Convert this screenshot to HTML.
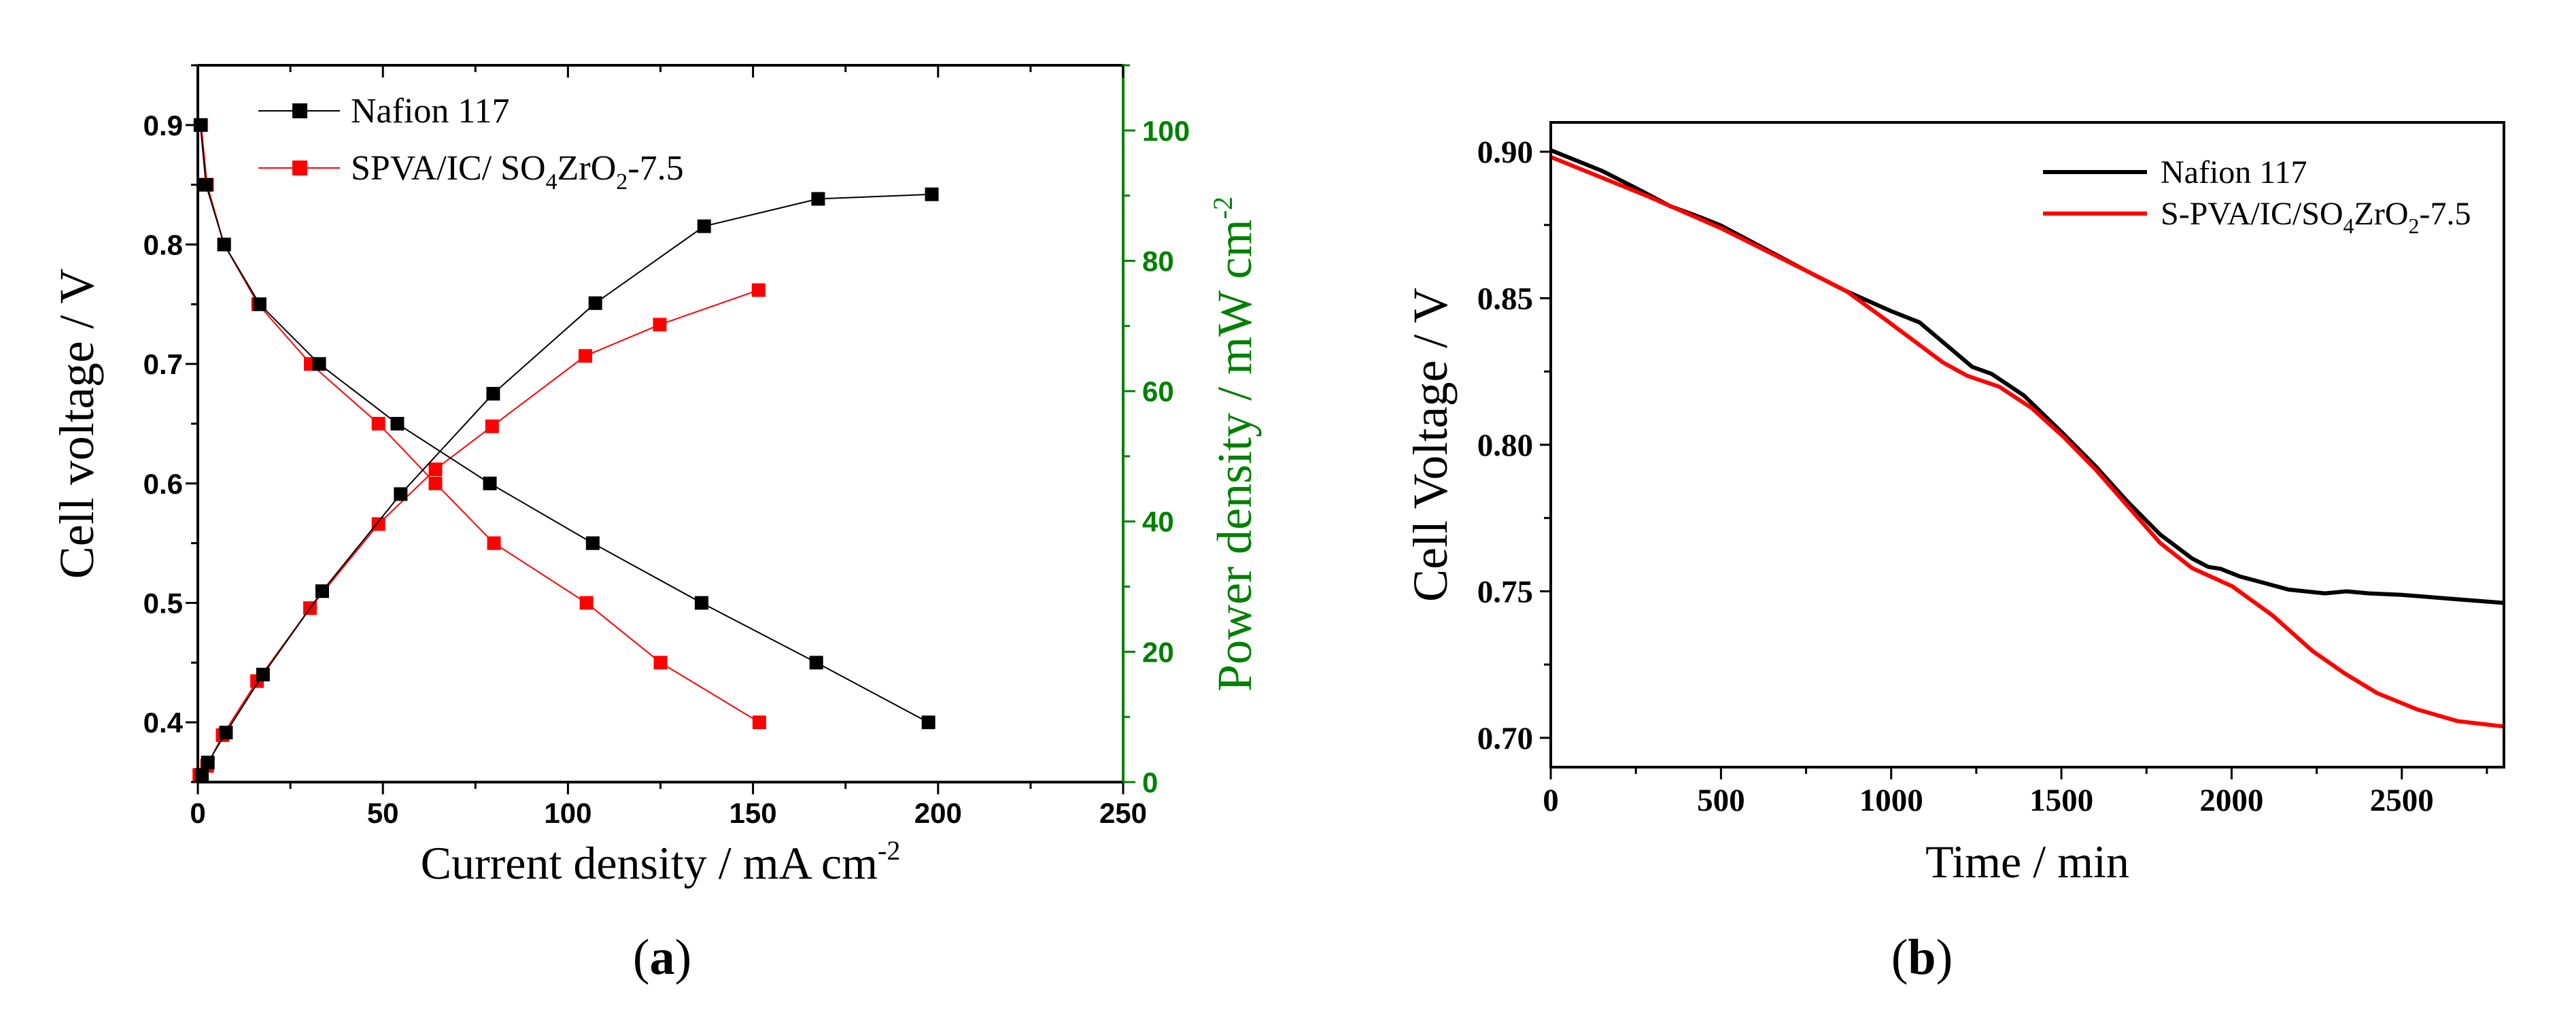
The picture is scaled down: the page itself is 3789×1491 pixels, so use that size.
<!DOCTYPE html>
<html><head><meta charset="utf-8"><style>
html,body{margin:0;padding:0;background:#fff;}
svg{display:block;}
.sf{font-family:"Liberation Serif","DejaVu Serif","Times New Roman",serif;}
.ss{font-family:"Liberation Sans","DejaVu Sans",Arial,sans-serif;}
</style></head><body>
<svg id="fig" width="3789" height="1491" viewBox="0 0 3789 1491" xmlns="http://www.w3.org/2000/svg">
<g id="ga"></g>
<g id="gb"></g>
<text class="sf" x="974" y="1432" font-size="74" text-anchor="middle">(<tspan font-weight="bold">a</tspan>)</text>
<text class="sf" x="2827" y="1432" font-size="74" text-anchor="middle">(<tspan font-weight="bold">b</tspan>)</text>
</svg>
<script>
// Panel (a) data
const nafVX = [0.7, 2.2, 7.1, 16.7, 32.8, 53.9, 78.9, 106.7, 136.1, 167.1, 197.4];
const nafV  = [0.9, 0.85, 0.8, 0.75, 0.7, 0.65, 0.6, 0.55, 0.5, 0.45, 0.4];
const spvVX = [0.9, 2.5, 7.1, 16.3, 30.5, 48.8, 64.2, 80, 105, 125, 151.7];
const spvV  = [0.9, 0.85, 0.8, 0.75, 0.7, 0.65, 0.6, 0.55, 0.5, 0.45, 0.4];
const nafPX = [1.1, 2.7, 7.6, 17.6, 33.6, 54.8, 79.8, 107.4, 136.8, 167.6, 198.3];
const nafP  = [1.1, 3.0, 7.6, 16.5, 29.3, 44.2, 59.6, 73.5, 85.3, 89.5, 90.2];
const spvPX = [0.4, 2.5, 6.7, 16, 30.3, 48.8, 64.2, 79.5, 104.7, 124.8, 151.5];
const spvP  = [1.1, 2.5, 7.2, 15.5, 26.7, 39.6, 48, 54.6, 65.4, 70.2, 75.5];
const aXTicks = [0, 50, 100, 150, 200, 250];
const aYTicks = [0.4, 0.5, 0.6, 0.7, 0.8, 0.9];
const aY2Ticks = [0, 20, 40, 60, 80, 100];
// Panel (b) data
const nafT = [0,150,252,351,436,500,752,870,1000,1083,1238,1295,1389,1507,1601,1696,1790,1884,1932,1967,2026,2097,2167,2274,2337,2403,2498,2639,2804];
const nafB = [0.9005,0.8935,0.8875,0.8814,0.8778,0.8748,0.8593,0.8523,0.8456,0.8418,0.8266,0.8242,0.8169,0.8036,0.7926,0.7804,0.7694,0.7612,0.7583,0.7577,0.755,0.7528,0.7506,0.7493,0.750,0.7493,0.7488,0.7475,0.746];
const spvT = [0,281,500,752,870,988,1153,1224,1318,1413,1507,1601,1696,1790,1884,2002,2120,2238,2333,2427,2545,2663,2804];
const spvB = [0.8982,0.8850,0.8739,0.8593,0.8523,0.8423,0.828,0.8235,0.8198,0.8125,0.8026,0.7915,0.7789,0.7665,0.7579,0.7517,0.7418,0.7296,0.7219,0.7153,0.7097,0.7057,0.7038];
const bXTicks = [0, 500, 1000, 1500, 2000, 2500];
const bYTicks = [0.70, 0.75, 0.80, 0.85, 0.90];

const NS = "http://www.w3.org/2000/svg";
function mk(parent, tag, attrs, txt){
  const e = document.createElementNS(NS, tag);
  for (const k in attrs) e.setAttribute(k, attrs[k]);
  if (txt !== undefined) e.textContent = txt;
  parent.appendChild(e); return e;
}
const ga = document.getElementById('ga');
const gb = document.getElementById('gb');

// ---- Panel A ----
const aL=291, aR=1652, aT=96, aB=1150;
const ax = v => aL + v/250*(aR-aL);
const ay = v => aB - (v-0.35)/0.6*(aB-aT);
const ay2 = v => aB - v/110*(aB-aT);

function seriesA(xs, ys, yf, color, name){
  const pts = xs.map((x,i)=>ax(x).toFixed(1)+','+yf(ys[i]).toFixed(1)).join(' ');
  const pl = mk(ga,'polyline',{points:pts,fill:'none',stroke:color,'stroke-width':2});
  
  
  xs.forEach((x,i)=>{
    const r = mk(ga,'rect',{x:ax(x)-10,y:yf(ys[i])-10,width:20,height:20,fill:color});
    
    
  });
}
seriesA(spvVX, spvV, ay, '#ff0000', 'spva-voltage');
seriesA(spvPX, spvP, ay2, '#ff0000', 'spva-power');
seriesA(nafVX, nafV, ay, '#000000', 'nafion-voltage');
seriesA(nafPX, nafP, ay2, '#000000', 'nafion-power');

let e;
e = mk(ga,'path',{d:`M${aL},${aT} H${aR-2} M${aL},${aT} V${aB} H${aR}`,fill:'none',stroke:'#000','stroke-width':4});
 
e = mk(ga,'line',{x1:aR,y1:aT-2,x2:aR,y2:aB,stroke:'#008000','stroke-width':4});
 
for (let v=0; v<=250; v+=25){
  const big = v%50===0;
  mk(ga,'line',{x1:ax(v),y1:aB,x2:ax(v),y2:aB+(big?18:10),stroke:'#000','stroke-width':3});
  mk(ga,'line',{x1:ax(v),y1:aT,x2:ax(v),y2:aT+(big?18:10),stroke:'#000','stroke-width':3});
}
aXTicks.forEach(v=>{
  const t = mk(ga,'text',{x:ax(v),y:aB+60,'text-anchor':'middle',class:'ss','font-weight':'bold','font-size':42}, String(v));
   
});
for (let v=0.35; v<=0.951; v+=0.05){
  const big = Math.abs(Math.round(v*10)-v*10)<1e-6;
  mk(ga,'line',{x1:aL,y1:ay(v),x2:aL-(big?18:10),y2:ay(v),stroke:'#000','stroke-width':3});
}
aYTicks.forEach(v=>{
  const t = mk(ga,'text',{x:aL-22,y:ay(v)+15,'text-anchor':'end',class:'ss','font-weight':'bold','font-size':42}, v.toFixed(1));
   
});
for (let v=0; v<=110; v+=10){
  const big = v%20===0;
  mk(ga,'line',{x1:aR,y1:ay2(v),x2:aR+(big?18:10),y2:ay2(v),stroke:'#008000','stroke-width':3});
}
aY2Ticks.forEach(v=>{
  const t = mk(ga,'text',{x:aR+28,y:ay2(v)+15,'text-anchor':'start',class:'ss','font-weight':'bold','font-size':42,fill:'#008000'}, String(v));
   
});
e = mk(ga,'text',{x:(aL+aR)/2,y:1292,'text-anchor':'middle','font-size':68,class:'sf'});
e.innerHTML = 'Current density / mA cm<tspan dy="-28" font-size="40">-2</tspan>';
 
e = mk(ga,'text',{x:0,y:0,'text-anchor':'middle','font-size':72,class:'sf',transform:`translate(137,${(aT+aB)/2}) rotate(-90)`}, 'Cell voltage / V');
 
e = mk(ga,'text',{x:0,y:0,'text-anchor':'middle','font-size':72,class:'sf',fill:'#008000',transform:`translate(1840,${(aT+aB)/2+30}) rotate(-90)`});
e.innerHTML = 'Power density / mW cm<tspan dy="-28" font-size="40">-2</tspan>';
 
function legA(y, color, html, name){
  const g = mk(ga,'g',{});
   
  mk(g,'line',{x1:380,y1:y,x2:500,y2:y,stroke:color,'stroke-width':2});
  mk(g,'rect',{x:430,y:y-11,width:22,height:22,fill:color});
  const t = mk(g,'text',{x:516,y:y+17,'font-size':52,class:'sf'});
  t.innerHTML = html;
}
legA(163, '#000', 'Nafion 117', 'legend-nafion');
legA(247, '#ff0000', 'SPVA/IC/ SO<tspan dy="14" font-size="34">4</tspan><tspan dy="-14">ZrO</tspan><tspan dy="14" font-size="34">2</tspan><tspan dy="-14">-7.5</tspan>', 'legend-spva');

// ---- Panel B ----
const bL=2281, bR=3683, bT=180, bB=1128;
const bx = v => bL + v/2800*(bR-bL);
const by = v => bB - (v-0.69)/0.22*(bB-bT);
function seriesB(xs, ys, color, name){
  const pts = xs.map((x,i)=>bx(x).toFixed(1)+','+by(ys[i]).toFixed(1)).join(' ');
  const pl = mk(gb,'polyline',{points:pts,fill:'none',stroke:color,'stroke-width':6,'stroke-linejoin':'round'});
  
  
}
seriesB(nafT, nafB, '#000', 'nafion-line');
seriesB(spvT, spvB, '#ff0000', 'spva-line');
e = mk(gb,'rect',{x:bL,y:bT,width:bR-bL,height:bB-bT,fill:'none',stroke:'#000','stroke-width':4});
 
for (let v=0; v<=2800; v+=250){
  const big = v%500===0;
  mk(gb,'line',{x1:bx(v),y1:bB,x2:bx(v),y2:bB+(big?18:10),stroke:'#000','stroke-width':3});
}
bXTicks.forEach(v=>{
  const t = mk(gb,'text',{x:bx(v),y:bB+64,'text-anchor':'middle',class:'sf','font-weight':'bold','font-size':47}, String(v));
   
});
for (let k=0; k<=8; k++){
  const v = 0.70 + k*0.025;
  const big = k%2===0;
  mk(gb,'line',{x1:bL,y1:by(v),x2:bL-(big?16:10),y2:by(v),stroke:'#000','stroke-width':3});
}
bYTicks.forEach(v=>{
  const t = mk(gb,'text',{x:bL-26,y:by(v)+16,'text-anchor':'end',class:'sf','font-weight':'bold','font-size':47}, v.toFixed(2));
   
});
e = mk(gb,'text',{x:(bL+bR)/2,y:1290,'text-anchor':'middle','font-size':68,class:'sf'}, 'Time / min');
 
e = mk(gb,'text',{x:0,y:0,'text-anchor':'middle','font-size':72,class:'sf',transform:`translate(2128,${(bT+bB)/2}) rotate(-90)`}, 'Cell Voltage / V');
 
function legB(y, color, html, name){
  const g = mk(gb,'g',{});
   
  mk(g,'line',{x1:3005,y1:y,x2:3158,y2:y,stroke:color,'stroke-width':6});
  const t = mk(g,'text',{x:3178,y:y+16,'font-size':48,class:'sf'});
  t.innerHTML = html;
}
legB(253, '#000', 'Nafion 117', 'legend-nafion');
legB(314, '#ff0000', 'S-PVA/IC/SO<tspan dy="13" font-size="32">4</tspan><tspan dy="-13">ZrO</tspan><tspan dy="13" font-size="32">2</tspan><tspan dy="-13">-7.5</tspan>', 'legend-spva');
</script>
</body></html>
